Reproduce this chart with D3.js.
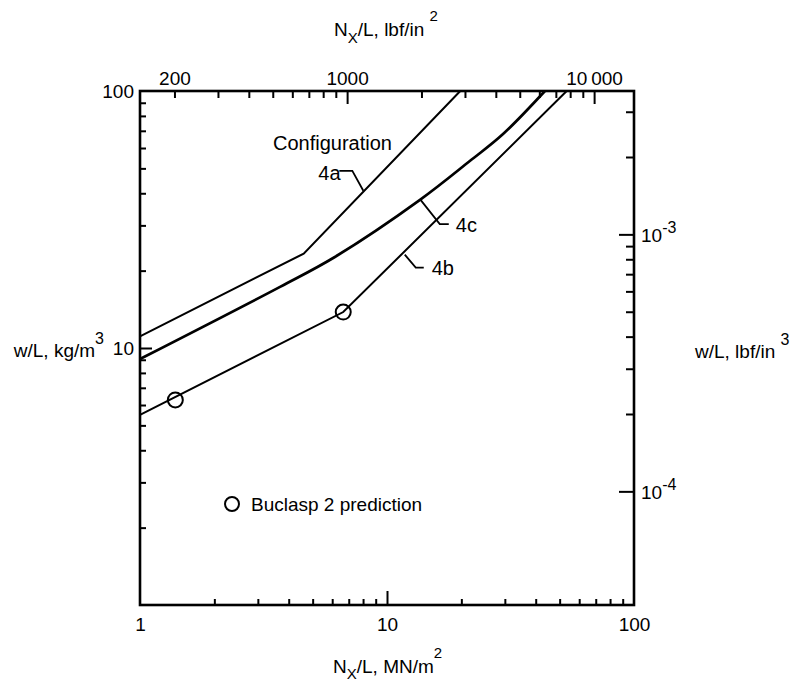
<!DOCTYPE html>
<html>
<head>
<meta charset="utf-8">
<script src="https://cdn.jsdelivr.net/npm/d3@7"></script>
<style>
  html, body { margin: 0; padding: 0; background: #fff; }
  svg { display: block; }
  text { font-family: "Liberation Sans", Arial, sans-serif; fill: #000; }
</style>
</head>
<body>
<svg id="chart" width="800" height="693"></svg>
<script>
// ---------------- DATA ----------------
// Lines: [N_x/L (MN/m^2), w/L (kg/m^3)]
const config4a = [[1, 11.1], [4.6, 23.3], [19.8, 100]];
const config4b = [[1, 5.49], [6.65, 13.8], [53.4, 100]];
const config4c = [[1, 9.06], [3.69, 17.3], [6.15, 22.6], [13.6, 37.7], [21.7, 53.5], [29.5, 68.0], [43.6, 100]];
// Buclasp 2 prediction points
const buclaspPoints = [[1.39, 6.28], [6.65, 13.8]];
// Line label anchors on curves
const lineLabels = [
  { name: "4a", at: [8.02, 40.9] },
  { name: "4c", at: [13.7, 37.6] },
  { name: "4b", at: [11.8, 23.1] }
];
// Tick values
const mnMinorTicks = [2,3,4,5,6,7,8,9,20,30,40,50,60,70,80,90];
const mnMajorTicks = [10];
const mnTickLabels = [1, 10, 100];
const kgMinorTicks = [2,3,4,5,6,7,8,9,20,30,40,50,60,70,80,90];
const kgMajorTicks = [10];
const kgTickLabels = [10, 100];
const psiMinorTicks = [200,300,400,500,600,700,800,900,2000,3000,4000,5000,6000,7000,8000,9000];
const psiMajorTicks = [1000, 10000];
const psiTickLabels = [200, 1000, 10000];
const lbfMinorTicks = [2e-4,3e-4,4e-4,5e-4,6e-4,7e-4,8e-4,9e-4,2e-3,3e-3];
const lbfMajorTicks = [1e-4, 1e-3];
const lbfTickLabels = [[1e-4, "-4"], [1e-3, "-3"]];
// Unit conversions
const PSI_PER_MN = 145.038;
const KGM3_PER_LBFIN3 = 27679.9;

// ---------------- SCALES ----------------
const L = 140, R = 634, T = 91, B = 605;
const x = d3.scaleLog().domain([1, 100]).range([L, R]);
const y = d3.scaleLog().domain([1, 100]).range([B, T]);
const xPsi = d3.scaleLog().domain([1 * PSI_PER_MN, 100 * PSI_PER_MN]).range([L, R]);
const yLbf = d3.scaleLog().domain([1 / KGM3_PER_LBFIN3, 100 / KGM3_PER_LBFIN3]).range([B, T]);

const svg = d3.select("#chart");
const FS = 19;

function styleAxis(g) {
  g.select(".domain").remove();
  g.selectAll(".tick line").attr("stroke", "#000").attr("stroke-width", 2);
  g.selectAll("text").attr("font-size", FS).attr("font-family", "Liberation Sans, Arial, sans-serif").attr("fill", "#000");
}

// Bottom axis (MN/m^2)
svg.append("g").attr("transform", `translate(0,${B})`)
  .call(d3.axisBottom(x).tickValues(mnMinorTicks).tickSize(-6).tickFormat(""))
  .call(styleAxis);
svg.append("g").attr("transform", `translate(0,${B})`)
  .call(d3.axisBottom(x).tickValues(mnMajorTicks).tickSize(-14).tickFormat(""))
  .call(styleAxis);
svg.append("g").attr("transform", `translate(0,${B})`)
  .call(d3.axisBottom(x).tickValues(mnTickLabels).tickSize(0).tickPadding(13).tickFormat(d3.format("d")))
  .call(styleAxis);

// Left axis (kg/m^3)
svg.append("g").attr("transform", `translate(${L},0)`)
  .call(d3.axisLeft(y).tickValues(kgMinorTicks).tickSize(-6).tickFormat(""))
  .call(styleAxis);
svg.append("g").attr("transform", `translate(${L},0)`)
  .call(d3.axisLeft(y).tickValues(kgMajorTicks).tickSize(-12).tickFormat(""))
  .call(styleAxis);
svg.append("g").attr("transform", `translate(${L},0)`)
  .call(d3.axisLeft(y).tickValues(kgTickLabels).tickSize(0).tickPadding(6).tickFormat(d3.format("d")))
  .call(styleAxis);

// Top axis (lbf/in^2)
svg.append("g").attr("transform", `translate(0,${T})`)
  .call(d3.axisTop(xPsi).tickValues(psiMinorTicks).tickSize(-7).tickFormat(""))
  .call(styleAxis);
svg.append("g").attr("transform", `translate(0,${T})`)
  .call(d3.axisTop(xPsi).tickValues(psiMajorTicks).tickSize(-13).tickFormat(""))
  .call(styleAxis);
svg.append("g").attr("transform", `translate(0,${T})`)
  .call(d3.axisTop(xPsi).tickValues(psiTickLabels).tickSize(0).tickPadding(6)
    .tickFormat(d => d === 10000 ? "10\u2009000" : String(d)))
  .call(styleAxis);

// Right axis (lbf/in^3)
svg.append("g").attr("transform", `translate(${R},0)`)
  .call(d3.axisRight(yLbf).tickValues(lbfMinorTicks).tickSize(-8).tickFormat(""))
  .call(styleAxis);
svg.append("g").attr("transform", `translate(${R},0)`)
  .call(d3.axisRight(yLbf).tickValues(lbfMajorTicks).tickSize(-15).tickFormat(""))
  .call(styleAxis);
const rightLab = svg.append("g").attr("transform", `translate(${R},0)`)
  .call(d3.axisRight(yLbf).tickValues(lbfTickLabels.map(d => d[0])).tickSize(0).tickPadding(7).tickFormat(""))
  .call(styleAxis);
rightLab.selectAll(".tick text").each(function(d) {
  const lab = lbfTickLabels.find(e => e[0] === d)[1];
  const t = d3.select(this);
  t.text(null).attr("dy", "0.35em");
  t.append("tspan").text("10");
  t.append("tspan").attr("dy", "-0.55em").attr("font-size", 16).text(lab);
});

// Frame
svg.append("rect").attr("x", L).attr("y", T).attr("width", R - L).attr("height", B - T)
  .attr("fill", "none").attr("stroke", "#000").attr("stroke-width", 2.6);

// Lines
const line = d3.line().x(d => x(d[0])).y(d => y(d[1]));
const lineCurve = d3.line().x(d => x(d[0])).y(d => y(d[1])).curve(d3.curveCatmullRom.alpha(0.5));
svg.append("path").datum(config4a).attr("d", line).attr("fill", "none").attr("stroke", "#000").attr("stroke-width", 2);
svg.append("path").datum(config4b).attr("d", line).attr("fill", "none").attr("stroke", "#000").attr("stroke-width", 2);
svg.append("path").datum(config4c).attr("d", lineCurve).attr("fill", "none").attr("stroke", "#000").attr("stroke-width", 2.7);

// Buclasp points
svg.selectAll("circle.pt").data(buclaspPoints).join("circle").attr("class", "pt")
  .attr("cx", d => x(d[0])).attr("cy", d => y(d[1])).attr("r", 7.5)
  .attr("fill", "none").attr("stroke", "#000").attr("stroke-width", 2);

// Line labels with leaders
const leaderOffsets = {
  "4a": { pts: [[0, 0], [-11, -20], [-24, -20]], text: [-45, -11] },
  "4c": { pts: [[0, 0], [19, 24], [28, 24]], text: [35, 32] },
  "4b": { pts: [[0, 0], [11, 13], [19, 13]], text: [27, 20] }
};
lineLabels.forEach(l => {
  const ax = x(l.at[0]), ay = y(l.at[1]);
  const o = leaderOffsets[l.name];
  svg.append("path")
    .attr("d", d3.line()(o.pts.map(p => [ax + p[0], ay + p[1]])))
    .attr("fill", "none").attr("stroke", "#000").attr("stroke-width", 1.8);
  svg.append("text").attr("x", ax + o.text[0]).attr("y", ay + o.text[1])
    .attr("font-size", 20).text(l.name);
});
svg.append("text").attr("x", 273).attr("y", 150).attr("font-size", 20).text("Configuration");

// Legend
svg.append("circle").attr("cx", 232).attr("cy", 504).attr("r", 7)
  .attr("fill", "none").attr("stroke", "#000").attr("stroke-width", 2);
svg.append("text").attr("x", 251).attr("y", 511).attr("font-size", FS).text("Buclasp 2 prediction");

// Axis titles
const tb = svg.append("text").attr("x", 333).attr("y", 673).attr("font-size", FS);
tb.append("tspan").text("N");
tb.append("tspan").attr("dy", 6).attr("font-size", 15).text("X");
tb.append("tspan").attr("dy", -6).text("/L, MN/m");
tb.append("tspan").attr("dy", -15).attr("font-size", 15).text("2");

const tt = svg.append("text").attr("x", 334).attr("y", 36).attr("font-size", FS);
tt.append("tspan").text("N");
tt.append("tspan").attr("dy", 7).attr("font-size", 15).text("X");
tt.append("tspan").attr("dy", -7).text("/L, lbf/in ");
tt.append("tspan").attr("dy", -15).attr("font-size", 15).text("2");

const tl = svg.append("text").attr("x", 104).attr("y", 357).attr("font-size", FS).attr("text-anchor", "end");
tl.append("tspan").text("w/L, kg/m");
tl.append("tspan").attr("dy", -13).attr("font-size", 16).text("3");

const tr = svg.append("text").attr("x", 695).attr("y", 358).attr("font-size", FS);
tr.append("tspan").text("w/L, lbf/in ");
tr.append("tspan").attr("dy", -13).attr("font-size", 16).text("3");
</script>
</body>
</html>
